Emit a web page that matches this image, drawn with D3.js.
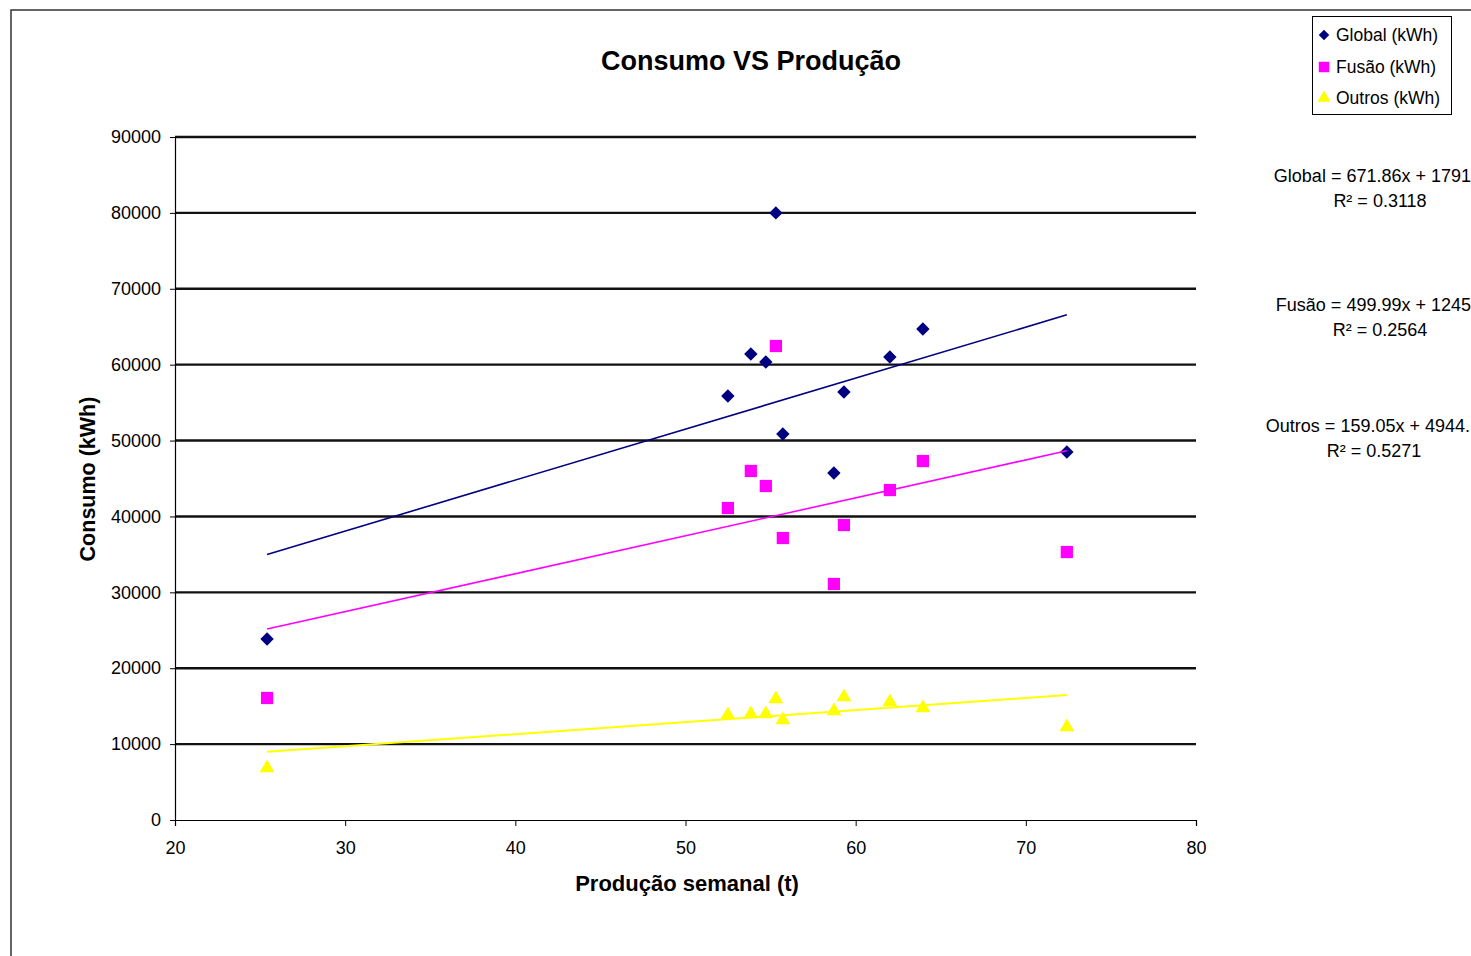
<!DOCTYPE html>
<html>
<head>
<meta charset="utf-8">
<script src="https://cdn.jsdelivr.net/npm/d3@7"></script>
<style>
  html, body { margin: 0; padding: 0; background: #fff; }
  svg { display: block; font-family: "Liberation Sans", Arial, sans-serif; }
</style>
</head>
<body>
<svg id="chart" width="1471" height="956"></svg>
<script>
// ---- data ----
const producao = [25.41, 52.49, 53.84, 54.72, 55.31, 55.72, 58.72, 59.31, 62.01, 63.95, 72.41];
const globalKwh = [23850, 55870, 61400, 60350, 80000, 50860, 45720, 56400, 61010, 64700, 48490];
const fusaoKwh  = [16080, 41110, 45990, 44010, 62460, 37160, 31100, 38870, 43480, 47300, 35310];
const outrosKwh = [6850, 13840, 13970, 13970, 15940, 13180, 14360, 16210, 15550, 14760, 12250];
const seriesNames = ["Global (kWh)", "Fusão (kWh)", "Outros (kWh)"];
const trendSlopes = [671.86, 499.99, 159.05];
const trendIntercepts = [17916, 12452, 4944];
const equationLabels = ["Global = 671.86x + 1791", "Fusão = 499.99x + 1245", "Outros = 159.05x + 4944."];
const r2Labels = ["R² = 0.3118", "R² = 0.2564", "R² = 0.5271"];
const xTicks = [20, 30, 40, 50, 60, 70, 80];
const yTicks = [0, 10000, 20000, 30000, 40000, 50000, 60000, 70000, 80000, 90000];

const colors = ["#000080", "#FF00FF", "#FFFF00"];
const svg = d3.select("#chart");

// outer border
svg.append("path")
  .attr("d", "M11,960 L11,10 L1475,10")
  .attr("fill", "none").attr("stroke", "#333").attr("stroke-width", 1.5);

const x = d3.scaleLinear().domain([20, 80]).range([175, 1196]);
const y = d3.scaleLinear().domain([0, 90000]).range([820, 137]);

// gridlines
svg.append("g").selectAll("line")
  .data(yTicks.filter(d => d > 0))
  .join("line")
  .attr("x1", x(20)).attr("x2", x(80))
  .attr("y1", d => y(d)).attr("y2", d => y(d))
  .attr("stroke", "#111").attr("stroke-width", 2.4);

// y axis
const yAxis = d3.axisLeft(y).tickValues(yTicks).tickSize(5).tickPadding(9).tickFormat(d3.format("d"));
const gy = svg.append("g").attr("transform", `translate(${x(20)},0)`).call(yAxis);
gy.select(".domain").attr("stroke", "#000").attr("stroke-width", 1.2);
gy.selectAll(".tick line").attr("stroke", "#000");
gy.selectAll(".tick text").attr("font-size", 18).attr("fill", "#000")
  .attr("font-family", "Liberation Sans, Arial, sans-serif");

// x axis
const xAxis = d3.axisBottom(x).tickValues(xTicks).tickSize(6).tickPadding(15).tickFormat(d3.format("d"));
const gx = svg.append("g").attr("transform", `translate(0,${y(0)})`).call(xAxis);
gx.select(".domain").attr("stroke", "#000").attr("stroke-width", 1.2);
gx.selectAll(".tick line").attr("stroke", "#000");
gx.selectAll(".tick text").attr("font-size", 18).attr("fill", "#000")
  .attr("font-family", "Liberation Sans, Arial, sans-serif");

// titles
svg.append("text").attr("x", 751).attr("y", 70).attr("text-anchor", "middle")
  .attr("font-size", 27).attr("font-weight", "bold").text("Consumo VS Produção");
svg.append("text").attr("x", 687).attr("y", 891).attr("text-anchor", "middle")
  .attr("font-size", 22).attr("font-weight", "bold").text("Produção semanal (t)");
svg.append("text").attr("transform", "translate(88,479) rotate(-90)")
  .attr("text-anchor", "middle").attr("dominant-baseline", "central")
  .attr("font-size", 21.5).attr("font-weight", "bold").text("Consumo (kWh)");

// markers
const symDiamond = d3.symbol().type(d3.symbolSquare).size(90);
const symSquare = d3.symbol().type(d3.symbolSquare).size(150);
const symTriangle = d3.symbol().type(d3.symbolTriangle).size(95);
const allSeries = [globalKwh, fusaoKwh, outrosKwh];
const symbols = [symDiamond, symSquare, symTriangle];
const rotations = [45, 0, 0];

allSeries.forEach((vals, i) => {
  svg.append("g").selectAll("path")
    .data(vals)
    .join("path")
    .attr("d", symbols[i]())
    .attr("transform", (d, j) => `translate(${x(producao[j])},${y(d)}) rotate(${rotations[i]})`)
    .attr("fill", colors[i]);
});

// trend lines
const xmin = d3.min(producao), xmax = d3.max(producao);
const line = d3.line().x(d => x(d[0])).y(d => y(d[1]));
trendSlopes.forEach((m, i) => {
  const b = trendIntercepts[i];
  svg.append("path")
    .attr("d", line([[xmin, m * xmin + b], [xmax, m * xmax + b]]))
    .attr("stroke", colors[i]).attr("stroke-width", i === 2 ? 2 : 1.6).attr("fill", "none");
});

// legend
const lg = svg.append("g");
lg.append("rect").attr("x", 1312.5).attr("y", 16.5).attr("width", 139).attr("height", 98)
  .attr("fill", "#fff").attr("stroke", "#000").attr("stroke-width", 1);
const legendRowY = [35, 67, 98];
const legendSyms = [d3.symbol().type(d3.symbolSquare).size(55), d3.symbol().type(d3.symbolSquare).size(110), d3.symbol().type(d3.symbolTriangle).size(75)];
seriesNames.forEach((name, i) => {
  lg.append("path").attr("d", legendSyms[i]())
    .attr("transform", `translate(1324,${legendRowY[i]}) rotate(${rotations[i]})`)
    .attr("fill", colors[i]);
  lg.append("text").attr("x", 1336).attr("y", legendRowY[i]).attr("dominant-baseline", "central")
    .attr("font-size", 17.5).text(name);
});

// equations
const eqY = [182, 311, 432];
const eqEnd = [1471, 1471, 1470];
const r2X = [1380, 1380, 1374];
equationLabels.forEach((t, i) => {
  svg.append("text").attr("x", eqEnd[i]).attr("y", eqY[i]).attr("text-anchor", "end")
    .attr("font-size", 18).text(t);
  svg.append("text").attr("x", r2X[i]).attr("y", eqY[i] + 25).attr("text-anchor", "middle")
    .attr("font-size", 18).text(r2Labels[i]);
});
</script>
</body>
</html>
